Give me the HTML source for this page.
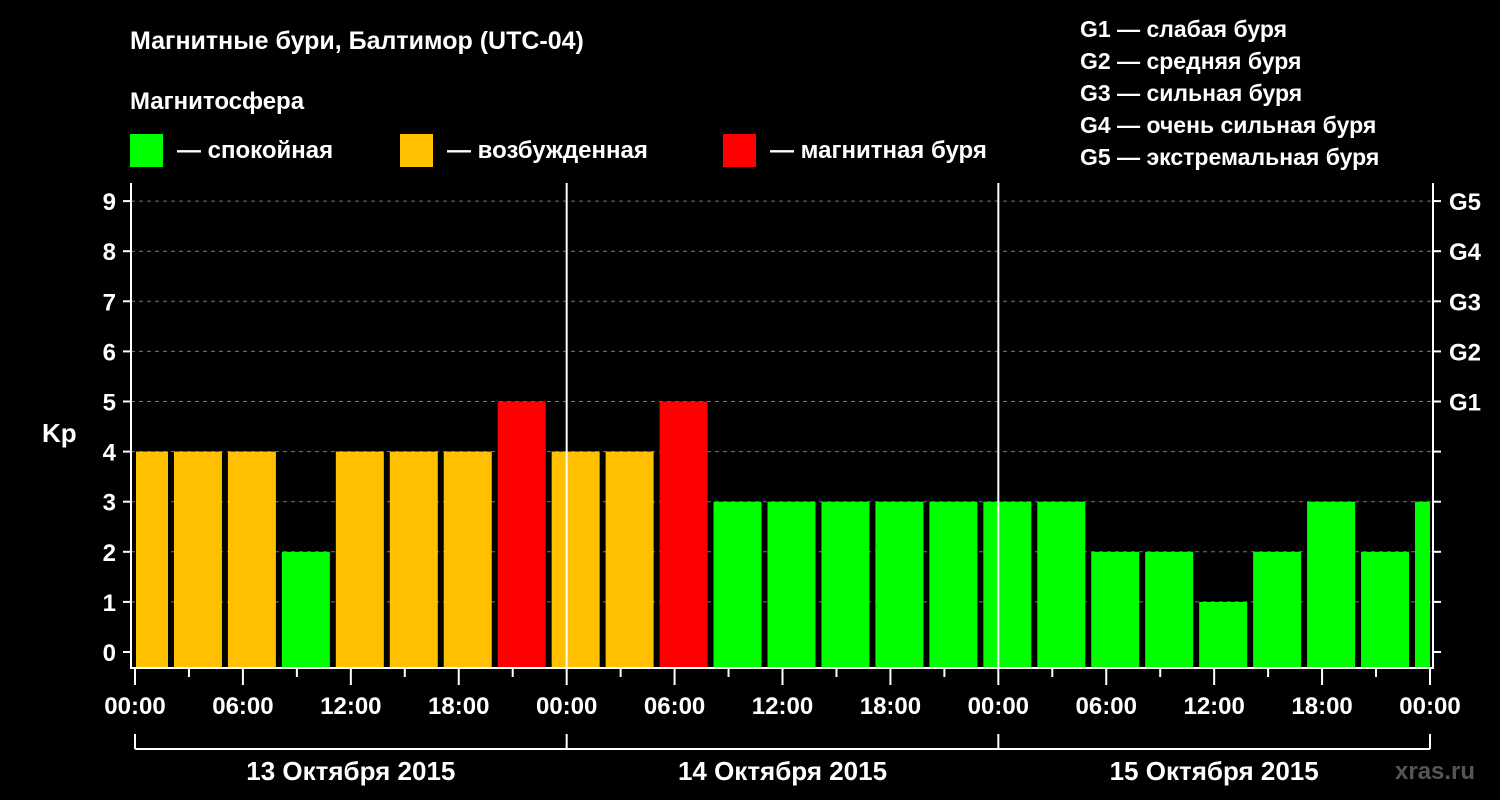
<!DOCTYPE html>
<html><head><meta charset="utf-8"><style>
body{margin:0;background:#000;width:1500px;height:800px;overflow:hidden}
svg{display:block;font-family:"Liberation Sans",sans-serif;font-weight:bold;fill:#fff}
</style></head><body>
<svg id="c" width="1500" height="800">
<text x="130" y="49" font-size="25">Магнитные бури, Балтимор (UTC-04)</text>
<text x="130" y="109" font-size="24">Магнитосфера</text>
<g><rect x="130" y="134" width="33" height="33" fill="#00ff00"/><text x="177" y="158" font-size="24">— спокойная</text></g>
<g><rect x="400" y="134" width="33" height="33" fill="#ffc000"/><text x="447" y="158" font-size="24">— возбужденная</text></g>
<g><rect x="723" y="134" width="33" height="33" fill="#ff0000"/><text x="770" y="158" font-size="24">— магнитная буря</text></g>
<g font-size="23">
<text x="1080" y="37">G1 — слабая буря</text><text x="1080" y="69">G2 — средняя буря</text><text x="1080" y="101">G3 — сильная буря</text><text x="1080" y="133">G4 — очень сильная буря</text><text x="1080" y="165">G5 — экстремальная буря</text></g>
<text x="42" y="442" font-size="26">Kp</text>
<g id="grid"></g><g id="bars"></g><g id="axes"></g>
<text x="1395" y="779" font-size="24" fill="#666" style="fill:#555">xras.ru</text>
</svg>
<script>
const kpValues=[4,4,4,2,4,4,4,5,4,4,5,3,3,3,3,3,3,3,2,2,1,2,3,2,3];
const yTicks=[0,1,2,3,4,5,6,7,8,9];
const gLabels=["G1","G2","G3","G4","G5"];
const hourLabels=["00:00","06:00","12:00","18:00"];
const dayLabels=["13 Октября 2015","14 Октября 2015","15 Октября 2015"];
const NS="http://www.w3.org/2000/svg";
const L=131,R=1433,T=183,B=668;
const x=h=>135+h*(1430-135)/72;
const y=v=>652-v*50.1;
function mk(p,tag,a){const e=document.createElementNS(NS,tag);for(const k in a)e.setAttribute(k,a[k]);document.getElementById(p).appendChild(e);return e;}
yTicks.forEach(v=>{if(v>0){const g=mk('grid','line',{x1:L,x2:R,y1:y(v),y2:y(v),stroke:'#777','stroke-dasharray':'4,4'});

}});
kpValues.forEach((v,i)=>{const c=x(3*i+0.5);let x0=Math.max(c-24,L+5),x1=Math.min(c+24,R-3);
const col=v>=5?'#ff0000':v==4?'#ffc000':'#00ff00';
const r=mk('bars','rect',{x:x0,y:y(v),width:x1-x0,height:B-1-y(v),fill:col});

});
mk('axes','path',{d:`M${L},${T}V${B}H${R}V${T}`,stroke:'#fff','stroke-width':2,fill:'none'});
[1,2].forEach(d=>mk('axes','line',{x1:x(24*d),x2:x(24*d),y1:T,y2:B,stroke:'#fff','stroke-width':2}));
yTicks.forEach(v=>{mk('axes','line',{x1:L-8,x2:L,y1:y(v),y2:y(v),stroke:'#fff','stroke-width':2});
mk('axes','line',{x1:R,x2:R+8,y1:y(v),y2:y(v),stroke:'#fff','stroke-width':2});
const t=mk('axes','text',{x:116,y:y(v)+9,'font-size':24,'text-anchor':'end'});t.textContent=v;


if(v>=5){const g=mk('axes','text',{x:1449,y:y(v)+9,'font-size':24});g.textContent=gLabels[v-5];

}});
for(let h=0;h<=72;h+=3){mk('axes','line',{x1:x(h),x2:x(h),y1:B,y2:B+(h%6?9:17),stroke:'#fff','stroke-width':2});
if(h%6==0){const t=mk('axes','text',{x:x(h),y:714,'font-size':24,'text-anchor':'middle'});t.textContent=hourLabels[(h%24)/6];

}}
mk('axes','line',{x1:x(0),x2:x(72),y1:749,y2:749,stroke:'#fff','stroke-width':2});
for(let d=0;d<=3;d++)mk('axes','line',{x1:x(24*d),x2:x(24*d),y1:734,y2:749,stroke:'#fff','stroke-width':2});
dayLabels.forEach((s,d)=>{const t=mk('axes','text',{x:x(24*d+12),y:780,'font-size':26,'text-anchor':'middle'});t.textContent=s;

});
</script>
</body></html>
